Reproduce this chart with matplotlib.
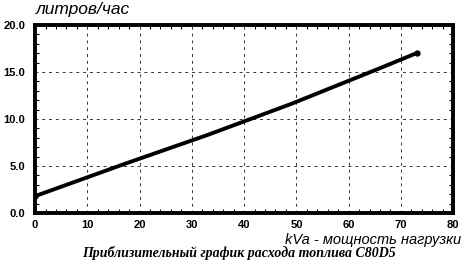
import matplotlib
matplotlib.use("Agg")
import matplotlib.pyplot as plt
from matplotlib.ticker import MultipleLocator

# approximate fuel consumption of C80D5
load_kva = [0, 17, 33, 49, 66, 73]
fuel_lph = [1.8, 5.2, 8.3, 11.6, 15.4, 17.0]

x_ticks = [0, 10, 20, 30, 40, 50, 60, 70, 80]
y_ticks = [0.0, 5.0, 10.0, 15.0, 20.0]

plt.rcParams['font.family'] = ['Liberation Sans', 'DejaVu Sans']

fig = plt.figure(figsize=(4.74, 2.65), dpi=100)
ax = fig.add_axes([0.074, 0.196, 0.882, 0.71])

ax.plot(load_kva, fuel_lph, color='black', lw=2.8, solid_capstyle='round')
ax.plot([load_kva[0], load_kva[-1]], [fuel_lph[0], fuel_lph[-1]], 'o',
        color='black', ms=3.5)

ax.set_xlim(0, 80)
ax.set_ylim(0, 20)
ax.set_xticks(x_ticks)
ax.set_xticklabels([str(v) for v in x_ticks])
ax.set_yticks(y_ticks)
ax.set_yticklabels([f"{v:.1f}" for v in y_ticks])
ax.xaxis.set_minor_locator(MultipleLocator(2))
ax.yaxis.set_minor_locator(MultipleLocator(1))
ax.tick_params(which='both', direction='in', top=True, right=True,
               labelsize=8, width=0.8)
ax.tick_params(which='major', length=0, pad=5)
ax.tick_params(axis='y', which='major', pad=7)
ax.tick_params(which='minor', length=3)
for lbl in ax.get_xticklabels() + ax.get_yticklabels():
    lbl.set_fontweight('bold')
ax.grid(True, which='major', color='#333333', ls=(0, (3, 4)), lw=0.7)
for s in ax.spines.values():
    s.set_linewidth(2.8)

fig.text(0.075, 0.935, 'литров/час', fontsize=12.5, style='italic',
         ha='left', va='bottom')
fig.text(0.972, 0.078, 'kVa - мощность нагрузки', fontsize=10.5,
         style='italic', ha='right', va='baseline')
fig.text(0.505, 0.03, 'Приблизительный график расхода топлива C80D5',
         fontsize=10, style='italic', fontweight='bold',
         family=['Liberation Serif', 'DejaVu Serif'], ha='center', va='baseline')

fig.savefig('out.png', dpi=100)
